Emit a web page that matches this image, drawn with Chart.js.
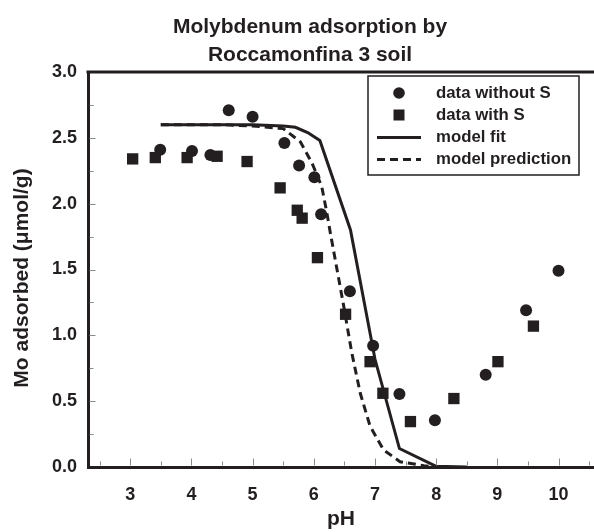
<!DOCTYPE html>
<html>
<head>
<meta charset="utf-8">
<script src="https://cdn.jsdelivr.net/npm/chart.js@4.4.1/dist/chart.umd.min.js"></script>
<style>
  html, body { margin: 0; padding: 0; background: #fff; }
  #wrap { width: 594px; height: 532px; }
</style>
</head>
<body>
<div id="wrap"><canvas id="chart" width="594" height="532"></canvas></div>
<script>
// measured points, data without S
const phNoS = [3.49, 4.01, 4.31, 4.61, 5.00, 5.52, 5.76, 6.01, 6.12, 6.59, 6.97, 7.40, 7.98, 8.81, 9.47, 10.0];
const moNoS = [2.41, 2.40, 2.37, 2.71, 2.66, 2.46, 2.29, 2.20, 1.92, 1.335, 0.92, 0.555, 0.355, 0.70, 1.19, 1.49];

// measured points, data with S
const phS = [3.04, 3.41, 3.93, 4.42, 4.91, 5.45, 5.73, 5.81, 6.06, 6.52, 6.92, 7.13, 7.58, 8.29, 9.01, 9.59];
const moS = [2.34, 2.35, 2.35, 2.36, 2.32, 2.12, 1.95, 1.89, 1.59, 1.16, 0.80, 0.56, 0.345, 0.52, 0.80, 1.07];

// model fit (solid)
const phFit = [3.5, 4.0, 4.5, 5.0, 5.5, 5.7, 5.9, 6.1, 6.6, 7.0, 7.4, 8.0, 8.5];
const moFit = [2.6, 2.6, 2.6, 2.6, 2.59, 2.58, 2.54, 2.48, 1.80, 0.82, 0.14, 0.005, 0.0];

// model prediction (dashed)
const phPred = [3.5, 4.0, 4.5, 5.0, 5.5, 5.78, 5.97, 6.13, 6.21, 6.27, 6.38, 6.49, 6.62, 6.76, 6.92, 7.14, 7.41, 7.8, 8.0];
const moPred = [2.6, 2.6, 2.6, 2.59, 2.57, 2.47, 2.31, 2.13, 1.94, 1.78, 1.50, 1.22, 0.87, 0.56, 0.31, 0.13, 0.04, 0.01, 0.0];

const xTicks = [3, 4, 5, 6, 7, 8, 9, 10];
const yTicks = [0, 0.5, 1.0, 1.5, 2.0, 2.5, 3.0];

const INK = '#231f20';
const FONT = "'Liberation Sans', Arial, Helvetica, sans-serif";

const pts = (xs, ys) => xs.map((x, i) => ({ x: x, y: ys[i] }));

// frame line on top, inward tick marks, titles and the boxed legend
const decorations = {
  id: 'decorations',
  afterDraw(chart) {
    const { ctx, chartArea: a, scales: { x, y } } = chart;
    ctx.save();

    ctx.strokeStyle = INK;
    ctx.lineWidth = 3;
    ctx.beginPath();
    ctx.moveTo(a.left - 1.5, a.top);
    ctx.lineTo(a.right, a.top);
    ctx.stroke();

    ctx.strokeStyle = '#8a8a8a';
    ctx.lineWidth = 1;
    ctx.beginPath();
    for (let v = 2.5; v <= 10.5; v += 0.5) {
      const px = Math.round(x.getPixelForValue(v)) + 0.5;
      const len = Number.isInteger(v) ? 7 : 4;
      ctx.moveTo(px, a.bottom - 1.5);
      ctx.lineTo(px, a.bottom - 1.5 - len);
    }
    for (let v = 0.25; v < 3; v += 0.25) {
      const py = Math.round(y.getPixelForValue(v)) + 0.5;
      const len = (v * 2) % 1 === 0 ? 6 : 4;
      ctx.moveTo(a.left + 1.5, py);
      ctx.lineTo(a.left + 1.5 + len, py);
    }
    ctx.stroke();

    // chart title
    ctx.fillStyle = INK;
    ctx.font = 'bold 21px ' + FONT;
    ctx.textAlign = 'center';
    ctx.textBaseline = 'alphabetic';
    ctx.fillText('Molybdenum adsorption by', 310, 33);
    ctx.fillText('Roccamonfina 3 soil', 310, 61);

    // y axis title
    ctx.save();
    ctx.translate(22, 278);
    ctx.rotate(-Math.PI / 2);
    ctx.font = 'bold 21px ' + FONT;
    ctx.textBaseline = 'middle';
    ctx.fillText('Mo adsorbed (\u03bcmol/g)', 0, 0);
    ctx.restore();

    // legend
    const bx = 368, by = 76, bw = 211, bh = 99;
    ctx.strokeStyle = INK;
    ctx.lineWidth = 1.5;
    ctx.strokeRect(bx, by, bw, bh);
    const rows = [93, 115, 137.5, 159.5];
    const sx = 399;
    chart.data.datasets.forEach((ds, i) => {
      const ry = rows[i];
      ctx.fillStyle = INK;
      ctx.strokeStyle = INK;
      if (ds.showLine) {
        ctx.lineWidth = 3;
        ctx.setLineDash(ds.borderDash || []);
        ctx.beginPath();
        ctx.moveTo(377, ry);
        ctx.lineTo(421, ry);
        ctx.stroke();
        ctx.setLineDash([]);
      } else if (ds.pointStyle === 'rect') {
        ctx.fillRect(sx - 5.5, ry - 5.5, 11, 11);
      } else {
        ctx.beginPath();
        ctx.arc(sx, ry, 5.8, 0, Math.PI * 2);
        ctx.fill();
      }
      ctx.font = 'bold 16.8px ' + FONT;
      ctx.textAlign = 'left';
      ctx.textBaseline = 'middle';
      ctx.fillText(ds.label, 436, ry);
    });

    ctx.restore();
  }
};

new Chart(document.getElementById('chart'), {
  type: 'scatter',
  data: {
    datasets: [
      {
        label: 'data without S',
        data: pts(phNoS, moNoS),
        showLine: false,
        pointStyle: 'circle',
        pointRadius: 6,
        backgroundColor: INK,
        borderColor: INK,
        borderWidth: 0
      },
      {
        label: 'data with S',
        data: pts(phS, moS),
        showLine: false,
        pointStyle: 'rect',
        pointRadius: 8,
        backgroundColor: INK,
        borderColor: INK,
        borderWidth: 0
      },
      {
        label: 'model fit',
        data: pts(phFit, moFit),
        showLine: true,
        pointRadius: 0,
        borderColor: INK,
        borderWidth: 3,
        tension: 0
      },
      {
        label: 'model prediction',
        data: pts(phPred, moPred),
        showLine: true,
        pointRadius: 0,
        borderColor: INK,
        borderWidth: 3,
        borderDash: [8, 5],
        tension: 0
      }
    ]
  },
  options: {
    responsive: false,
    animation: false,
    layout: { autoPadding: false, padding: { top: 72, right: 0, left: 0, bottom: 0 } },
    plugins: {
      legend: { display: false },
      tooltip: { enabled: false }
    },
    scales: {
      x: {
        type: 'linear',
        min: 2.31,
        max: 10.58,
        afterBuildTicks: s => { s.ticks = xTicks.map(v => ({ value: v })); },
        afterFit: s => { s.height = 65; },
        grid: { display: false, drawTicks: false },
        border: { display: true, width: 3, color: INK },
        ticks: {
          color: INK,
          font: { family: FONT, size: 18, weight: 'bold' },
          padding: 17,
          maxRotation: 0,
          callback: v => String(v)
        },
        title: {
          display: true,
          text: 'pH',
          color: INK,
          font: { family: FONT, size: 21, weight: 'bold' },
          padding: { top: 0, bottom: 0 }
        }
      },
      y: {
        type: 'linear',
        min: 0,
        max: 3,
        afterBuildTicks: s => { s.ticks = yTicks.map(v => ({ value: v })); },
        afterFit: s => { s.width = 88; },
        grid: { display: false, drawTicks: false },
        border: { display: true, width: 3, color: INK },
        ticks: {
          color: INK,
          font: { family: FONT, size: 18, weight: 'bold' },
          padding: 11,
          callback: v => v.toFixed(1)
        },
        title: { display: false }
      }
    }
  },
  plugins: [decorations]
});
</script>
</body>
</html>
